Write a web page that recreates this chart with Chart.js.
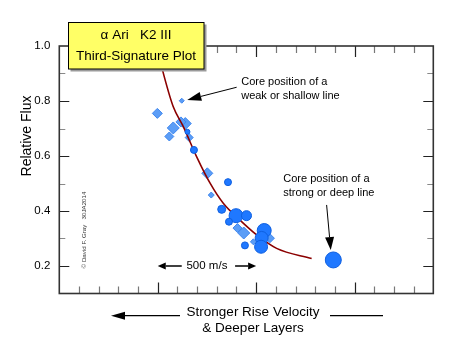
<!DOCTYPE html>
<html><head><meta charset="utf-8">
<script src="https://cdn.jsdelivr.net/npm/chart.js@4.4.0/dist/chart.umd.min.js"></script>
<style>html,body{margin:0;padding:0;background:#fff;}#wrap{width:470px;height:354px;}</style>
</head><body><div id="wrap"><canvas id="c" width="470" height="354"></canvas></div>
<script>
// ---- data (velocity in m/s on a relative scale, relative flux) ----
const curveX = [495, 523, 579, 630, 698, 766, 833, 918, 1003, 1104, 1282];
const curveY = [1.00, 0.916, 0.779, 0.707, 0.597, 0.501, 0.428, 0.367, 0.313, 0.264, 0.227];

const circleX = [651, 684, 857, 825, 898, 951, 862, 943, 1041, 1028, 1025, 1392];
const circleY = [0.688, 0.622, 0.505, 0.406, 0.383, 0.383, 0.361, 0.275, 0.329, 0.302, 0.270, 0.222];
const circleStrength = [3, 4, 4, 4.5, 7.5, 5.5, 4, 4, 7.5, 7, 7, 8.5];

const diamondX = [622, 498, 579, 559, 640, 618, 660, 752, 772, 905, 937, 986, 1070];
const diamondY = [0.801, 0.755, 0.702, 0.671, 0.718, 0.724, 0.667, 0.537, 0.458, 0.338, 0.320, 0.288, 0.301];
const diamondStrength = [2.5, 5, 6, 4.5, 6, 5, 4, 5.5, 3, 4.5, 6, 3, 4.5];

const yLabelTicks = [0.2, 0.4, 0.6, 0.8, 1.0];
const xMin = 0, xMax = 1900, xStep = 100, xMajor = 500;
const yMin = 0.1, yMax = 1.0, yStep = 0.1;

const titleLines = ['\u03B1 Ari   K2 III', 'Third-Signature Plot'];
const yTitle = 'Relative Flux';
const xTitleLines = ['Stronger Rise Velocity', '& Deeper Layers'];
const copyrightText = '\u00A9 David F. Gray   30JA2014';
const weakNote = ['Core position of a', 'weak or shallow line'];
const strongNote = ['Core position of a', 'strong or deep line'];
const scaleNote = '500 m/s';
const scaleBar = [500, 1000];

const FONT = '"Liberation Sans", Arial, Helvetica, sans-serif';

function arrow(ctx, x1, y1, x2, y2, hl, hw, lw) {
  const a = Math.atan2(y2 - y1, x2 - x1);
  const bx = x2 - Math.cos(a) * hl, by = y2 - Math.sin(a) * hl;
  ctx.lineWidth = lw;
  ctx.beginPath(); ctx.moveTo(x1, y1); ctx.lineTo(bx, by); ctx.stroke();
  ctx.beginPath();
  ctx.moveTo(x2, y2);
  ctx.lineTo(bx + Math.sin(a) * hw / 2, by - Math.cos(a) * hw / 2);
  ctx.lineTo(bx - Math.sin(a) * hw / 2, by + Math.cos(a) * hw / 2);
  ctx.closePath(); ctx.fill();
}

const decor = {
  id: 'decor',
  afterDraw(chart) {
    const ctx = chart.ctx, ca = chart.chartArea;
    const xs = chart.scales.x, ys = chart.scales.y;
    ctx.save();
    // ticks
    for (let v = xMin + xStep; v < xMax; v += xStep) {
      const px = Math.round(xs.getPixelForValue(v)) + 0.5;
      const major = v % xMajor === 0;
      const len = major ? 11 : 7;
      ctx.strokeStyle = major ? '#222' : '#777';
      ctx.lineWidth = 1.2;
      ctx.beginPath();
      ctx.moveTo(px, ca.bottom); ctx.lineTo(px, ca.bottom - len);
      ctx.moveTo(px, ca.top); ctx.lineTo(px, ca.top + len);
      ctx.stroke();
    }
    for (let i = 1; i < Math.round((yMax - yMin) / yStep); i++) {
      const v = yMin + i * yStep;
      const py = Math.round(ys.getPixelForValue(v)) + 0.5;
      const major = Math.round(v * 10) % 2 === 0;
      const len = major ? 10 : 6;
      ctx.strokeStyle = major ? '#222' : '#888';
      ctx.lineWidth = 1.2;
      ctx.beginPath();
      ctx.moveTo(ca.left, py); ctx.lineTo(ca.left + len, py);
      ctx.moveTo(ca.right, py); ctx.lineTo(ca.right - len, py);
      ctx.stroke();
    }
    // frame
    ctx.strokeStyle = '#333'; ctx.lineWidth = 1.6;
    ctx.strokeRect(ca.left, ca.top, ca.right - ca.left, ca.bottom - ca.top);

    // y title
    ctx.fillStyle = '#000';
    ctx.font = '14px ' + FONT;
    ctx.textAlign = 'center'; ctx.textBaseline = 'middle';
    ctx.save(); ctx.translate(27, 136); ctx.rotate(-Math.PI / 2); ctx.fillText(yTitle, 0, 0); ctx.restore();
    // copyright
    ctx.fillStyle = '#333';
    ctx.font = '6.2px ' + FONT;
    ctx.save(); ctx.translate(84, 230); ctx.rotate(-Math.PI / 2); ctx.fillText(copyrightText, 0, 0); ctx.restore();

    // x title
    ctx.fillStyle = '#000';
    ctx.font = '13.5px ' + FONT;
    ctx.fillText(xTitleLines[0], 253, 312);
    ctx.fillText(xTitleLines[1], 253, 328.5);
    ctx.strokeStyle = '#000'; ctx.fillStyle = '#000';
    arrow(ctx, 180, 315.7, 111, 315.7, 14, 8, 1.2);
    ctx.lineWidth = 1.2;
    ctx.beginPath(); ctx.moveTo(330, 315.7); ctx.lineTo(383, 315.7); ctx.stroke();

    // annotations (anchored in data units)
    const X = v => xs.getPixelForValue(v), Y = v => ys.getPixelForValue(v);
    ctx.font = '11px ' + FONT; ctx.textAlign = 'left';
    ctx.fillText(weakNote[0], X(924), Y(0.870));
    ctx.fillText(weakNote[1], X(924), Y(0.818));
    arrow(ctx, X(901), Y(0.850), X(650), Y(0.804), 14, 9, 1);
    ctx.fillText(strongNote[0], X(1138), Y(0.515));
    ctx.fillText(strongNote[1], X(1138), Y(0.464));
    arrow(ctx, X(1358), Y(0.422), X(1379), Y(0.258), 13, 9, 1);
    ctx.font = '11.5px ' + FONT; ctx.textAlign = 'center';
    ctx.fillText(scaleNote, X((scaleBar[0] + scaleBar[1]) / 2) , Y(0.2));
    arrow(ctx, X(622), Y(0.2), X(scaleBar[0]), Y(0.2), 8, 7, 1.5);
    arrow(ctx, X(893), Y(0.2), X(scaleBar[1]), Y(0.2), 8, 7, 1.5);

    // title box
    ctx.fillStyle = '#9a9a9a';
    ctx.fillRect(70.5, 24.5, 136, 47);
    ctx.fillStyle = '#FFFF66';
    ctx.fillRect(68.5, 22.5, 135.5, 46.5);
    ctx.strokeStyle = '#000'; ctx.lineWidth = 1;
    ctx.strokeRect(68.5, 22.5, 135.5, 46.5);
    ctx.fillStyle = '#000';
    ctx.font = '13.5px ' + FONT; ctx.textAlign = 'center';
    ctx.fillText(titleLines[0], 136, 35.5);
    ctx.fillText(titleLines[1], 136, 56);
    ctx.restore();
  }
};

new Chart(document.getElementById('c'), {
  type: 'bubble',
  data: {
    datasets: [
      { type: 'bubble', label: 'circles',
        data: circleX.map((x, i) => ({ x, y: circleY[i], r: circleStrength[i] - 0.5 })),
        backgroundColor: '#1F78FF', borderColor: '#0E5FE0', borderWidth: 1 },
      { type: 'line', label: 'curve',
        data: curveX.map((x, i) => ({ x, y: curveY[i] })),
        borderColor: '#8B0000', borderWidth: 1.6, pointRadius: 0, fill: false,
        cubicInterpolationMode: 'monotone' },
      { type: 'bubble', label: 'diamonds', pointStyle: 'rectRot',
        data: diamondX.map((x, i) => ({ x, y: diamondY[i], r: diamondStrength[i] })),
        backgroundColor: '#5B9DF6', borderColor: '#3E86EE', borderWidth: 1 }
    ]
  },
  options: {
    responsive: false, animation: false, devicePixelRatio: 1,
    layout: { padding: { left: 0, top: 46, right: 36.7, bottom: 60.5 } },
    plugins: { legend: { display: false }, tooltip: { enabled: false } },
    scales: {
      x: { type: 'linear', min: xMin, max: xMax, display: false },
      y: { type: 'linear', min: yMin, max: yMax, position: 'left',
        afterFit: s => { s.width = 59.3; },
        grid: { display: false, drawTicks: false }, border: { display: false },
        ticks: { stepSize: yStep, padding: 9, color: '#000',
          font: { family: FONT, size: 11.5 },
          callback: v => yLabelTicks.some(t => Math.abs(t - v) < 1e-6) ? v.toFixed(1) : '' } }
    }
  },
  plugins: [decor]
});
</script></body></html>
